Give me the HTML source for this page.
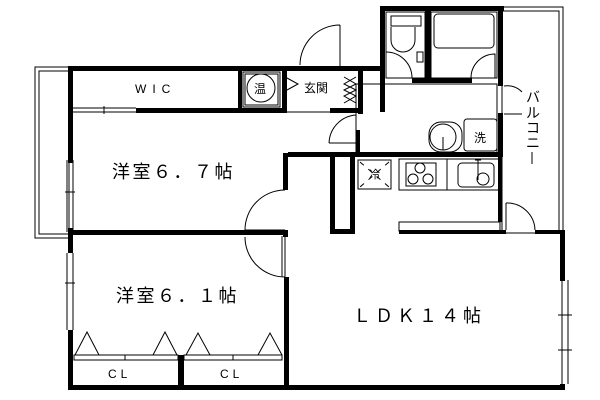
<!DOCTYPE html>
<html><head><meta charset="utf-8"><style>
html,body{margin:0;padding:0;background:#fff;}
svg{display:block}
text{font-family:"Liberation Sans","Noto Sans CJK JP",sans-serif;fill:#000}
</style></head><body>
<svg width="600" height="400" viewBox="0 0 600 400" xmlns="http://www.w3.org/2000/svg">
<g fill="none" stroke="#000" stroke-width="1">
<rect x="35" y="67" width="34" height="171"/>
<rect x="39" y="71" width="30" height="163"/>
<rect x="502" y="7" width="61" height="226"/>
<rect x="502" y="11" width="57" height="222"/>
<line x1="72" y1="108" x2="136" y2="108"/><line x1="72" y1="112" x2="136" y2="112"/><line x1="104" y1="106" x2="104" y2="114"/>
<rect x="243" y="72" width="37" height="35"/><rect x="245" y="74" width="33" height="31"/>
<circle cx="261" cy="88" r="14"/>
<path d="M340 25 A40 40 0 0 0 300 65 M340 25 V68"/>
<path d="M329 143 A29 29 0 0 1 356 115 M329 143 H358"/>
<path d="M344 77 L356 84 L344 90 L356 96 L344 103 M356 77 L344 84 L356 90 L344 96 L356 103"/>
<path d="M287 78 L298 84 L287 90"/>
<line x1="283" y1="112" x2="330" y2="112"/>
<rect x="386" y="12" width="39" height="66"/>
<rect x="391" y="16" width="30" height="10"/>
<path d="M391 27 V40 A12 12 0 0 0 415 40 V27"/>
<rect x="417" y="52" width="6" height="10"/>
<path d="M386 52 A26 26 0 0 1 412 78"/>
<rect x="431" y="12" width="66" height="66"/>
<rect x="434" y="14" width="60" height="34" rx="4"/>
<path d="M471 78 A24 24 0 0 1 495 54 V78"/>
<rect x="356" y="84" width="141" height="69"/>
<path d="M504 86 A20 20 0 0 1 522 92 M504 114 H522"/>
<rect x="429" y="122" width="33" height="30" rx="12"/>
<circle cx="443" cy="137" r="13"/><line x1="443" y1="137" x2="443" y2="150"/>
<rect x="464" y="119" width="33" height="32" rx="3"/>
<rect x="358" y="160" width="33" height="29"/>
<path d="M360 162 L389 187 M389 162 L360 187" stroke-dasharray="5 6"/>
<rect x="399" y="159" width="101" height="31"/><line x1="447" y1="159" x2="447" y2="190"/>
<rect x="406" y="163" width="30" height="23"/>
<circle cx="413" cy="179" r="5"/><circle cx="428" cy="179" r="5"/><circle cx="420" cy="168" r="5"/>
<rect x="458" y="163" width="36" height="24" rx="4"/>
<path d="M478 160 V180 M475 160 H481"/><circle cx="483" cy="179" r="6"/>
<rect x="399" y="222" width="101" height="9"/>
<path d="M506 203 A28 28 0 0 1 535 230 M506 203 V230"/>
<path d="M285 190 A40 40 0 0 0 245 230 H285"/>
<path d="M245 237 A40 40 0 0 0 285 277 V237"/>
<line x1="282" y1="236" x2="282" y2="277"/>
<line x1="67" y1="160" x2="67" y2="232"/><line x1="73" y1="160" x2="73" y2="232"/><line x1="65" y1="192" x2="75" y2="192"/>
<line x1="67" y1="253" x2="67" y2="330"/><line x1="73" y1="253" x2="73" y2="330"/><line x1="65" y1="283" x2="75" y2="283"/>
<line x1="562" y1="280" x2="562" y2="384"/><line x1="568" y1="280" x2="568" y2="384"/><line x1="558" y1="315" x2="572" y2="315"/><line x1="558" y1="350" x2="572" y2="350"/>
<path d="M75 355 L87 332 L99 355 M153 355 L165 332 L177 355 M186 355 L198 333 L210 355 M258 355 L270 333 L282 355"/>
<rect x="74" y="355" width="104" height="5"/><rect x="184" y="355" width="98" height="5"/>
<line x1="125" y1="355" x2="125" y2="360"/><line x1="233" y1="355" x2="233" y2="360"/>
<line x1="532" y1="152" x2="532" y2="164"/>
</g>
<g fill="#000">
<rect x="68" y="66" width="315" height="5"/>
<rect x="68" y="66" width="5" height="97"/>
<rect x="68" y="228" width="5" height="25"/>
<rect x="68" y="330" width="5" height="60"/>
<rect x="136" y="108" width="150" height="5"/>
<rect x="238" y="68" width="4" height="43"/>
<rect x="282" y="68" width="5" height="45"/>
<rect x="283" y="153" width="5" height="37"/>
<rect x="283" y="230" width="5" height="7"/>
<rect x="284" y="277" width="5" height="113"/>
<rect x="70" y="230" width="218" height="5"/>
<rect x="68" y="385" width="497" height="5"/>
<rect x="560" y="231" width="5" height="50"/><rect x="560" y="384" width="5" height="6"/>
<rect x="178" y="355" width="6" height="33"/>
<rect x="380" y="6" width="124" height="5"/>
<rect x="380" y="6" width="5" height="106"/>
<rect x="425" y="8" width="6" height="75"/>
<rect x="498" y="6" width="5" height="80"/>
<rect x="498" y="113" width="5" height="44"/>
<rect x="498" y="157" width="4" height="65"/>
<rect x="412" y="78" width="60" height="5"/>
<rect x="358" y="68" width="5" height="46"/>
<rect x="330" y="108" width="33" height="5"/>
<rect x="356" y="130" width="4" height="25"/>
<rect x="288" y="152" width="214" height="5"/>
<rect x="330" y="157" width="5" height="77"/>
<rect x="330" y="229" width="25" height="5"/><rect x="350" y="157" width="5" height="77"/>
<rect x="399" y="230" width="107" height="4"/>
<rect x="535" y="230" width="30" height="4"/>
</g>
<g font-size="12">
<text x="135" y="93" letter-spacing="6">WIC</text>
<text x="254" y="93">温</text>
<text x="304" y="92">玄関</text>
<text x="474" y="142">洗</text>
<text x="369" y="178" font-size="11">冷</text>
<text x="108" y="378" letter-spacing="4">CL</text>
<text x="220" y="378" letter-spacing="4">CL</text>
</g>
<g font-size="14">
<text x="526" y="102">バ</text><text x="526" y="118">ル</text><text x="526" y="133">コ</text><text x="526" y="148">ニ</text>
</g>
<g font-size="18" letter-spacing="2.5">
<text x="112" y="178">洋室６．７帖</text>
<text x="116" y="302">洋室６．１帖</text>
</g>
<text x="353" y="322" font-size="18" letter-spacing="4">ＬＤＫ１４帖</text>
</svg>
</body></html>
